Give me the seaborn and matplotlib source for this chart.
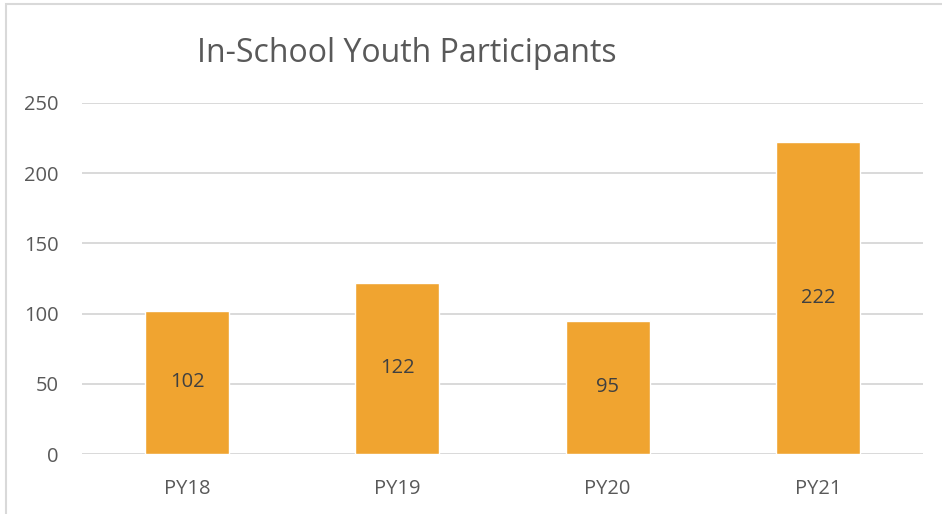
import matplotlib
matplotlib.use("Agg")
import matplotlib.pyplot as plt
import seaborn as sns
import pandas as pd
from matplotlib.patches import Rectangle

categories = ["PY18", "PY19", "PY20", "PY21"]
values = [102, 122, 95, 222]
yticks = [0, 50, 100, 150, 200, 250]
title = "In-School Youth Participants"

sns.set_theme(style="white")
plt.rcParams['font.family'] = ['Open Sans', 'DejaVu Sans']

df = pd.DataFrame({"cat": categories, "val": values})

W, H = 942, 514
fig = plt.figure(figsize=(W/100, H/100), dpi=100)
ax = fig.add_axes([82/W, 1-454/H, (923-82)/W, (454-103)/H])

sns.barplot(data=df, x="cat", y="val", color="#F0A430", saturation=1,
            width=0.4, ax=ax, zorder=3)

ax.set_ylim(0, 250)
ax.set_xlim(-0.5, 3.5)
ax.set_yticks(yticks)
ax.set_yticklabels([str(t) for t in yticks])
ax.grid(axis="y", color="#D9D9D9", linewidth=1.4, zorder=0)
ax.grid(axis="x", visible=False)
for s in ax.spines.values():
    s.set_visible(False)
ax.set_xlabel("")
ax.set_ylabel("")
ax.tick_params(axis="both", length=0, labelsize=14.5, colors="#595959")
ax.tick_params(axis="y", pad=17)
ax.tick_params(axis="x", pad=18)

for c in ax.containers:
    ax.bar_label(c, labels=[str(v) for v in values], label_type="center",
                 fontsize=14.5, color="#404040")

fig.text(197/W, 1-53/H, title, fontsize=23, color="#595959",
         ha="left", va="center")

fig.patches.append(Rectangle((6/W, -0.1), 1.2, 1-4/H+0.1, transform=fig.transFigure,
                             fill=False, edgecolor="#D9D9D9", linewidth=1.5))

fig.savefig("out.png", dpi=100)
